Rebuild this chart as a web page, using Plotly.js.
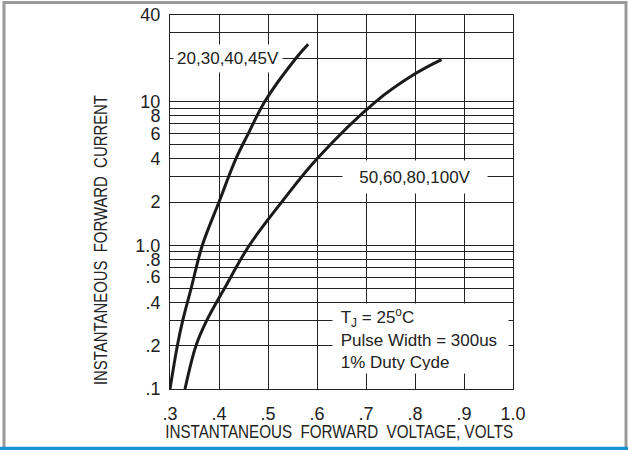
<!DOCTYPE html>
<html>
<head>
<meta charset="utf-8">
<script src="https://cdn.plot.ly/plotly-3.0.1.min.js"></script>
<style>html,body{margin:0;padding:0;background:#fff;}#chart{width:628px;height:450px;}</style>
</head>
<body>
<div id="chart"></div>
<script>
// Series: 20,30,40,45V devices
const lowV_voltage = [0.300, 0.315, 0.326, 0.343, 0.366, 0.400, 0.4346, 0.460, 0.4935, 0.557, 0.582];
const lowV_current = [0.1, 0.2, 0.3, 0.5, 1.0, 2.0, 4, 6, 10, 20, 25];
// Series: 50,60,80,100V devices
const highV_voltage = [0.3306, 0.353, 0.375, 0.411, 0.462, 0.531, 0.600, 0.720, 0.800, 0.854];
const highV_current = [0.1, 0.2, 0.3, 0.5, 1.0, 2.06, 4.0, 10, 15.6, 19.6];

const xTickVals = [0.3, 0.4, 0.5, 0.6, 0.7, 0.8, 0.9, 1.0];
const xTickText = ['.3', '.4', '.5', '.6', '.7', '.8', '.9', '1.0'];
const yTickVals = [0.1, 0.2, 0.4, 0.6, 0.8, 1, 2, 4, 6, 8, 10, 40];
const yTickText = ['.1', '.2', '.4', '.6', '.8', '1.0', '2', '4', '6', '8', '10', '40'];
const yGridOnly = [0.3, 0.5, 0.7, 0.9, 3, 5, 7, 9, 20, 30];

const labelLow = '20,30,40,45V';
const labelHigh = '50,60,80,100V';
const conditions = '\u00a0T<sub>J</sub> = 25<sup>o</sup>C<br>\u00a0Pulse Width = 300us<br>\u00a01% Duty Cyde';
const xTitle = 'INSTANTANEOUS \u00a0FORWARD \u00a0VOLTAGE, VOLTS';
const yTitle = 'INSTANTANEOUS \u00a0FORWARD \u00a0CURRENT';

const FONT = '"Liberation Sans", Arial, Helvetica, sans-serif';
const INK = '#1a1a1a';
const TXT = '#222';
const GRID = '#222';

const traces = [
  {x: lowV_voltage, y: lowV_current, mode: 'lines', line: {color: INK, width: 3, shape: 'spline', smoothing: 1}, hoverinfo: 'skip'},
  {x: highV_voltage, y: highV_current, mode: 'lines', line: {color: INK, width: 3, shape: 'spline', smoothing: 1}, hoverinfo: 'skip'}
];

const layout = {
  width: 628, height: 450,
  margin: {l: 170, r: 115, t: 15, b: 61, pad: 0},
  paper_bgcolor: '#fff', plot_bgcolor: '#fff',
  showlegend: false,
  font: {family: FONT, color: TXT, size: 18},
  xaxis: {
    range: [0.3, 1.0], tickvals: xTickVals, ticktext: xTickText,
    showgrid: true, gridcolor: GRID, gridwidth: 1,
    showline: true, linecolor: GRID, linewidth: 1, mirror: true,
    zeroline: false, ticks: '', ticklabelstandoff: 8,
    tickfont: {size: 18, family: FONT, color: TXT}
  },
  yaxis: {
    type: 'log', range: [-1, Math.log10(40)], tickvals: yTickVals, ticktext: yTickText,
    showgrid: true, gridcolor: GRID, gridwidth: 1,
    minor: {tickvals: yGridOnly, showgrid: true, gridcolor: GRID, gridwidth: 1, ticks: ''},
    showline: true, linecolor: GRID, linewidth: 1, mirror: true,
    zeroline: false, ticks: '', ticklabelstandoff: 5,
    tickfont: {size: 18, family: FONT, color: TXT}
  },
  annotations: [
    {x: 0.4183, y: Math.log10(20), xref: 'x', yref: 'y', text: labelLow, showarrow: false,
     font: {size: 17, family: FONT, color: TXT}, bgcolor: '#fff', borderpad: 0, width: 108, height: 27,
     xanchor: 'center', yanchor: 'middle'},
    {x: 0.7996, y: Math.log10(3), xref: 'x', yref: 'y', text: labelHigh, showarrow: false,
     font: {size: 17, family: FONT, color: TXT}, bgcolor: '#fff', borderpad: 0, width: 144, height: 32,
     xanchor: 'center', yanchor: 'middle'},
    {x: 0.6303, y: Math.log10(0.2244), xref: 'x', yref: 'y', text: conditions, showarrow: false,
     font: {size: 17, family: FONT, color: TXT}, bgcolor: '#fff', borderpad: 3, width: 169, height: 63,
     align: 'left', xanchor: 'left', yanchor: 'middle'},
    {x: 0.4923, y: -0.1150, xref: 'paper', yref: 'paper', text: xTitle, showarrow: false,
     font: {size: 18, family: FONT, color: TXT}, xanchor: 'center', yanchor: 'middle'},
    {x: -0.201, y: 0.398, xref: 'paper', yref: 'paper', text: yTitle, showarrow: false, textangle: -90,
     font: {size: 18, family: FONT, color: TXT}, xanchor: 'center', yanchor: 'middle'}
  ],
  shapes: [
    {type: 'rect', xref: 'paper', yref: 'paper', x0: (4 - 170) / 343, x1: (626 - 170) / 343,
     y0: (389 - 460) / 374, y1: (389 - 2.5) / 374, line: {color: '#9a9a9a', width: 3}, layer: 'below'},
    {type: 'line', xref: 'paper', yref: 'paper', x0: -0.6, x1: 1.5,
     y0: (389 - 448.5) / 374, y1: (389 - 448.5) / 374, line: {color: '#1593d3', width: 3.5}}
  ]
};

// The reference uses a condensed face for the axis titles; squeeze them horizontally.
const condensedLengths = {};
condensedLengths[xTitle] = 348;
condensedLengths[yTitle] = 290;

Plotly.newPlot('chart', traces, layout, {staticPlot: true, displayModeBar: false}).then(function (gd) {
  gd.querySelectorAll('text.annotation-text').forEach(function (t) {
    const len = condensedLengths[t.textContent];
    if (len) {
      t.setAttribute('textLength', len);
      t.setAttribute('lengthAdjust', 'spacingAndGlyphs');
    }
  });
});
</script>
</body>
</html>
